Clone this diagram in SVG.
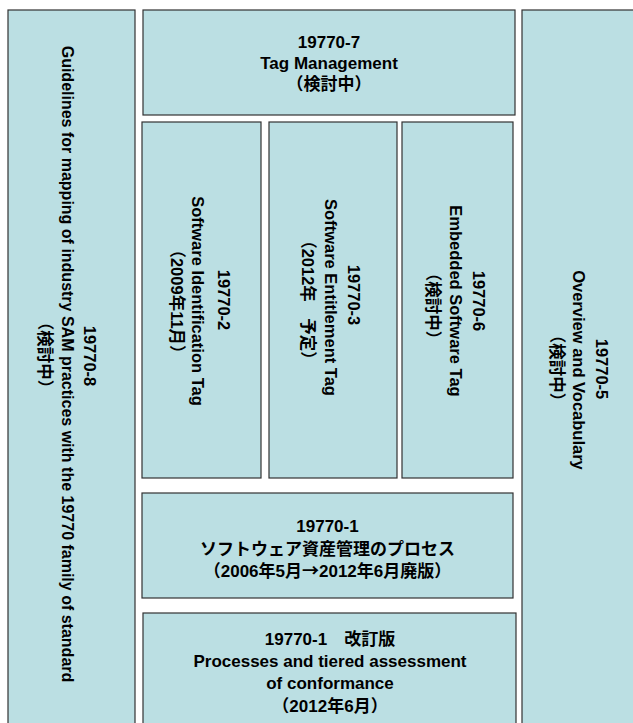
<svg xmlns="http://www.w3.org/2000/svg" width="633" height="723" viewBox="0 0 633 723">
<style>
.box{fill:#BBDFE3;stroke:#333;stroke-width:1.2}
.t{font-family:"Liberation Sans","Noto Sans CJK JP",sans-serif;font-weight:bold;font-size:17px;fill:#000;text-anchor:middle}
.v{font-size:16.5px}
.cjk{font-family:"Noto Sans CJK JP",sans-serif}
</style>
<rect x="0" y="0" width="633" height="723" fill="#fff"/>
<g id="n8">
<rect class="box" x="8" y="10" width="127" height="730"/>
<g transform="rotate(90)">
<text class="t v" x="356" y="-84">19770-8</text>
<text class="t" x="364" y="-61.5" style="font-size:16px">Guidelines for mapping of industry SAM practices with the 19770 family of standard</text>
<text class="t v" x="355" y="-39">（検討中）</text>
</g>
</g>
<g id="n7">
<rect class="box" x="143" y="10" width="372" height="105"/>
<text class="t" x="329" y="48">19770-7</text>
<text class="t" x="329" y="69">Tag Management</text>
<text class="t" x="329" y="90">（検討中）</text>
</g>
<g id="n5">
<rect class="box" x="522" y="10" width="130" height="730"/>
<g transform="rotate(90)">
<text class="t v" x="369" y="-596">19770-5</text>
<text class="t v" x="370" y="-573">Overview and Vocabulary</text>
<text class="t v" x="368" y="-550.5">（検討中）</text>
</g>
</g>
<g id="n2">
<rect class="box" x="142" y="122" width="119" height="356"/>
<g transform="rotate(90)">
<text class="t v" x="300" y="-217.5">19770-2</text>
<text class="t v" x="301" y="-191.5">Software Identification Tag</text>
<text class="t v" x="301.5" y="-170.5">（2009年11月）</text>
</g>
</g>
<g id="n3">
<rect class="box" x="269" y="122" width="128" height="356"/>
<g transform="rotate(90)">
<text class="t v" x="295" y="-347.5">19770-3</text>
<text class="t v" x="297.5" y="-324.5">Software Entitlement Tag</text>
<text class="t v" x="300" y="-302">（2012年　予定）</text>
</g>
</g>
<g id="n6">
<rect class="box" x="402" y="122" width="111" height="356"/>
<g transform="rotate(90)">
<text class="t v" x="301" y="-472.5">19770-6</text>
<text class="t v" x="301" y="-449.5">Embedded Software Tag</text>
<text class="t v" x="306" y="-426.5">（検討中）</text>
</g>
</g>
<g id="n1">
<rect class="box" x="142" y="493" width="371" height="105"/>
<text class="t" x="327.5" y="532">19770-1</text>
<text class="t" x="327.5" y="555">ソフトウェア資産管理のプロセス</text>
<text class="t" x="327.5" y="577">（2006年5月<tspan class="cjk">→</tspan>2012年6月廃版）</text>
</g>
<g id="n1r">
<rect class="box" x="143" y="613" width="373" height="130"/>
<text class="t" x="330" y="645">19770-1　改訂版</text>
<text class="t" x="330" y="667">Processes and tiered assessment</text>
<text class="t" x="330" y="689">of conformance</text>
<text class="t" x="330" y="712">（2012年6月）</text>
</g>
<g id="connectors"/>
</svg>
